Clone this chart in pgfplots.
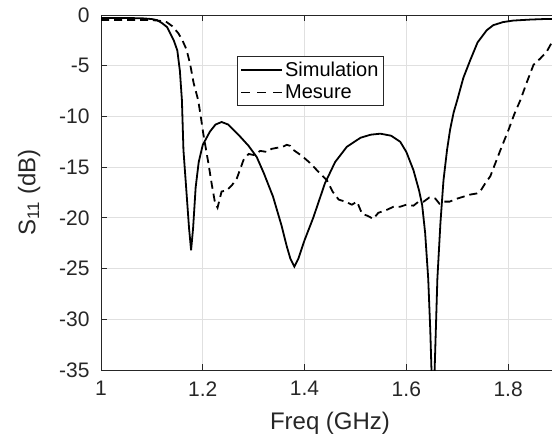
\documentclass[border=0pt]{standalone}
\usepackage{fontspec}
\setmainfont{Liberation Sans}
\usepackage{pgfplots}
\pgfplotsset{compat=1.18}
\usetikzlibrary{calc}

\definecolor{axgray}{gray}{0.15}
\definecolor{gridgray}{gray}{0.88}

\begin{document}
\begin{tikzpicture}
\begin{axis}[
  scale only axis,
  width=458pt, height=355pt,
  xmin=1, xmax=1.9, ymin=-35, ymax=0,
  xtick={1,1.2,1.4,1.6,1.8},
  ytick={-35,-30,...,0},
  xticklabels={1,1.2,1.4,1.6,1.8},
  /pgf/number format/assume math mode=true,
  grid=major,
  grid style={gridgray, line width=0.8pt},
  axis line style={axgray, line width=0.8pt},
  tick style={axgray, line width=0.8pt},
  major tick length=6pt,
  tick label style={font=\fontsize{21}{25}\selectfont, text=axgray},
  yticklabel style={xshift=-8pt},
  xticklabel style={yshift=-8pt},
  label style={font=\fontsize{24}{28}\selectfont, text=axgray},
  xlabel={Freq (GHz)},
  ylabel={S\textsubscript{11} (dB)},
  xlabel shift=9pt,
  ylabel shift=12pt,
  legend cell align=left,
  legend style={at={(0.297,0.8845)}, anchor=north west, draw=axgray,
    line width=0.6pt, font=\fontsize{20}{24}\selectfont,
    inner xsep=3pt, inner ysep=3.5pt, row sep=3pt},
  legend image code/.code={\draw[#1, line width=1.8pt] (0pt,0pt) -- (41pt,0pt);},
]
\addplot[black, line width=1.8pt] table {
x y
1.00 -0.30
1.05 -0.30
1.08 -0.32
1.10 -0.40
1.11 -0.50
1.12 -0.80
1.13 -1.20
1.136 -1.8
1.143 -2.5
1.150 -3.5
1.155 -5.5
1.159 -8.4
1.162 -13.3
1.168 -17.5
1.173 -21.0
1.177 -23.2
1.181 -21.0
1.186 -17.0
1.192 -14.5
1.200 -12.8
1.214 -11.5
1.225 -10.8
1.237 -10.55
1.250 -10.8
1.270 -11.8
1.290 -12.9
1.306 -14.0
1.320 -15.6
1.338 -17.9
1.355 -20.8
1.365 -22.8
1.372 -24.0
1.380 -24.8
1.388 -24.0
1.400 -22.2
1.417 -20.0
1.440 -16.6
1.460 -14.5
1.483 -13.0
1.510 -12.1
1.530 -11.8
1.549 -11.7
1.570 -11.9
1.588 -12.5
1.600 -13.5
1.614 -15.3
1.625 -17.3
1.631 -18.7
1.637 -21.5
1.643 -26.0
1.647 -31.0
1.650 -36.0
1.6525 -45.0
1.655 -36.0
1.658 -31.0
1.661 -26.0
1.667 -20.5
1.673 -16.3
1.680 -13.3
1.686 -11.3
1.693 -9.6
1.700 -8.4
1.712 -6.2
1.726 -4.4
1.740 -2.7
1.758 -1.5
1.771 -1.0
1.790 -0.7
1.810 -0.55
1.844 -0.45
1.870 -0.4
1.900 -0.4
};
\addlegendentry{Simulation\hspace{17pt}}
\addplot[black, line width=1.8pt, dash pattern=on 8pt off 5pt,
  legend image post style={dash pattern=on 9pt off 7pt}] table {
x y
1.00 -0.5
1.05 -0.5
1.10 -0.5
1.12 -0.6
1.129 -0.7
1.140 -1.1
1.152 -1.8
1.160 -2.5
1.168 -3.4
1.175 -4.8
1.182 -6.7
1.191 -8.4
1.196 -10.0
1.201 -11.7
1.211 -14.6
1.218 -16.8
1.224 -18.5
1.229 -19.0
1.233 -18.2
1.237 -17.4
1.247 -17.3
1.257 -16.8
1.267 -16.1
1.275 -15.0
1.280 -14.3
1.290 -13.7
1.300 -13.8
1.313 -13.4
1.326 -13.5
1.335 -13.2
1.345 -13.1
1.357 -13.0
1.365 -12.8
1.372 -12.9
1.378 -13.3
1.395 -13.9
1.411 -14.6
1.428 -15.5
1.444 -16.3
1.455 -17.4
1.467 -18.2
1.480 -18.4
1.493 -18.7
1.503 -18.4
1.513 -19.6
1.524 -19.8
1.535 -20.1
1.545 -19.5
1.562 -19.2
1.575 -18.9
1.588 -18.9
1.600 -18.7
1.614 -18.8
1.624 -18.4
1.634 -18.4
1.645 -18.0
1.657 -18.1
1.665 -18.6
1.673 -18.4
1.685 -18.4
1.700 -18.1
1.713 -17.9
1.726 -17.7
1.738 -17.6
1.745 -17.4
1.755 -16.6
1.765 -15.9
1.775 -14.6
1.785 -13.3
1.801 -11.3
1.812 -9.8
1.824 -8.4
1.837 -6.6
1.850 -4.9
1.863 -4.3
1.876 -3.6
1.887 -2.6
1.900 -1.8
};
\addlegendentry{Mesure}
\end{axis}
\pgfresetboundingbox
\useasboundingbox ($(current axis.south west)+(-101pt,-67pt)$) rectangle ($(current axis.north east)+(-7pt,15pt)$);
\end{tikzpicture}
\end{document}
